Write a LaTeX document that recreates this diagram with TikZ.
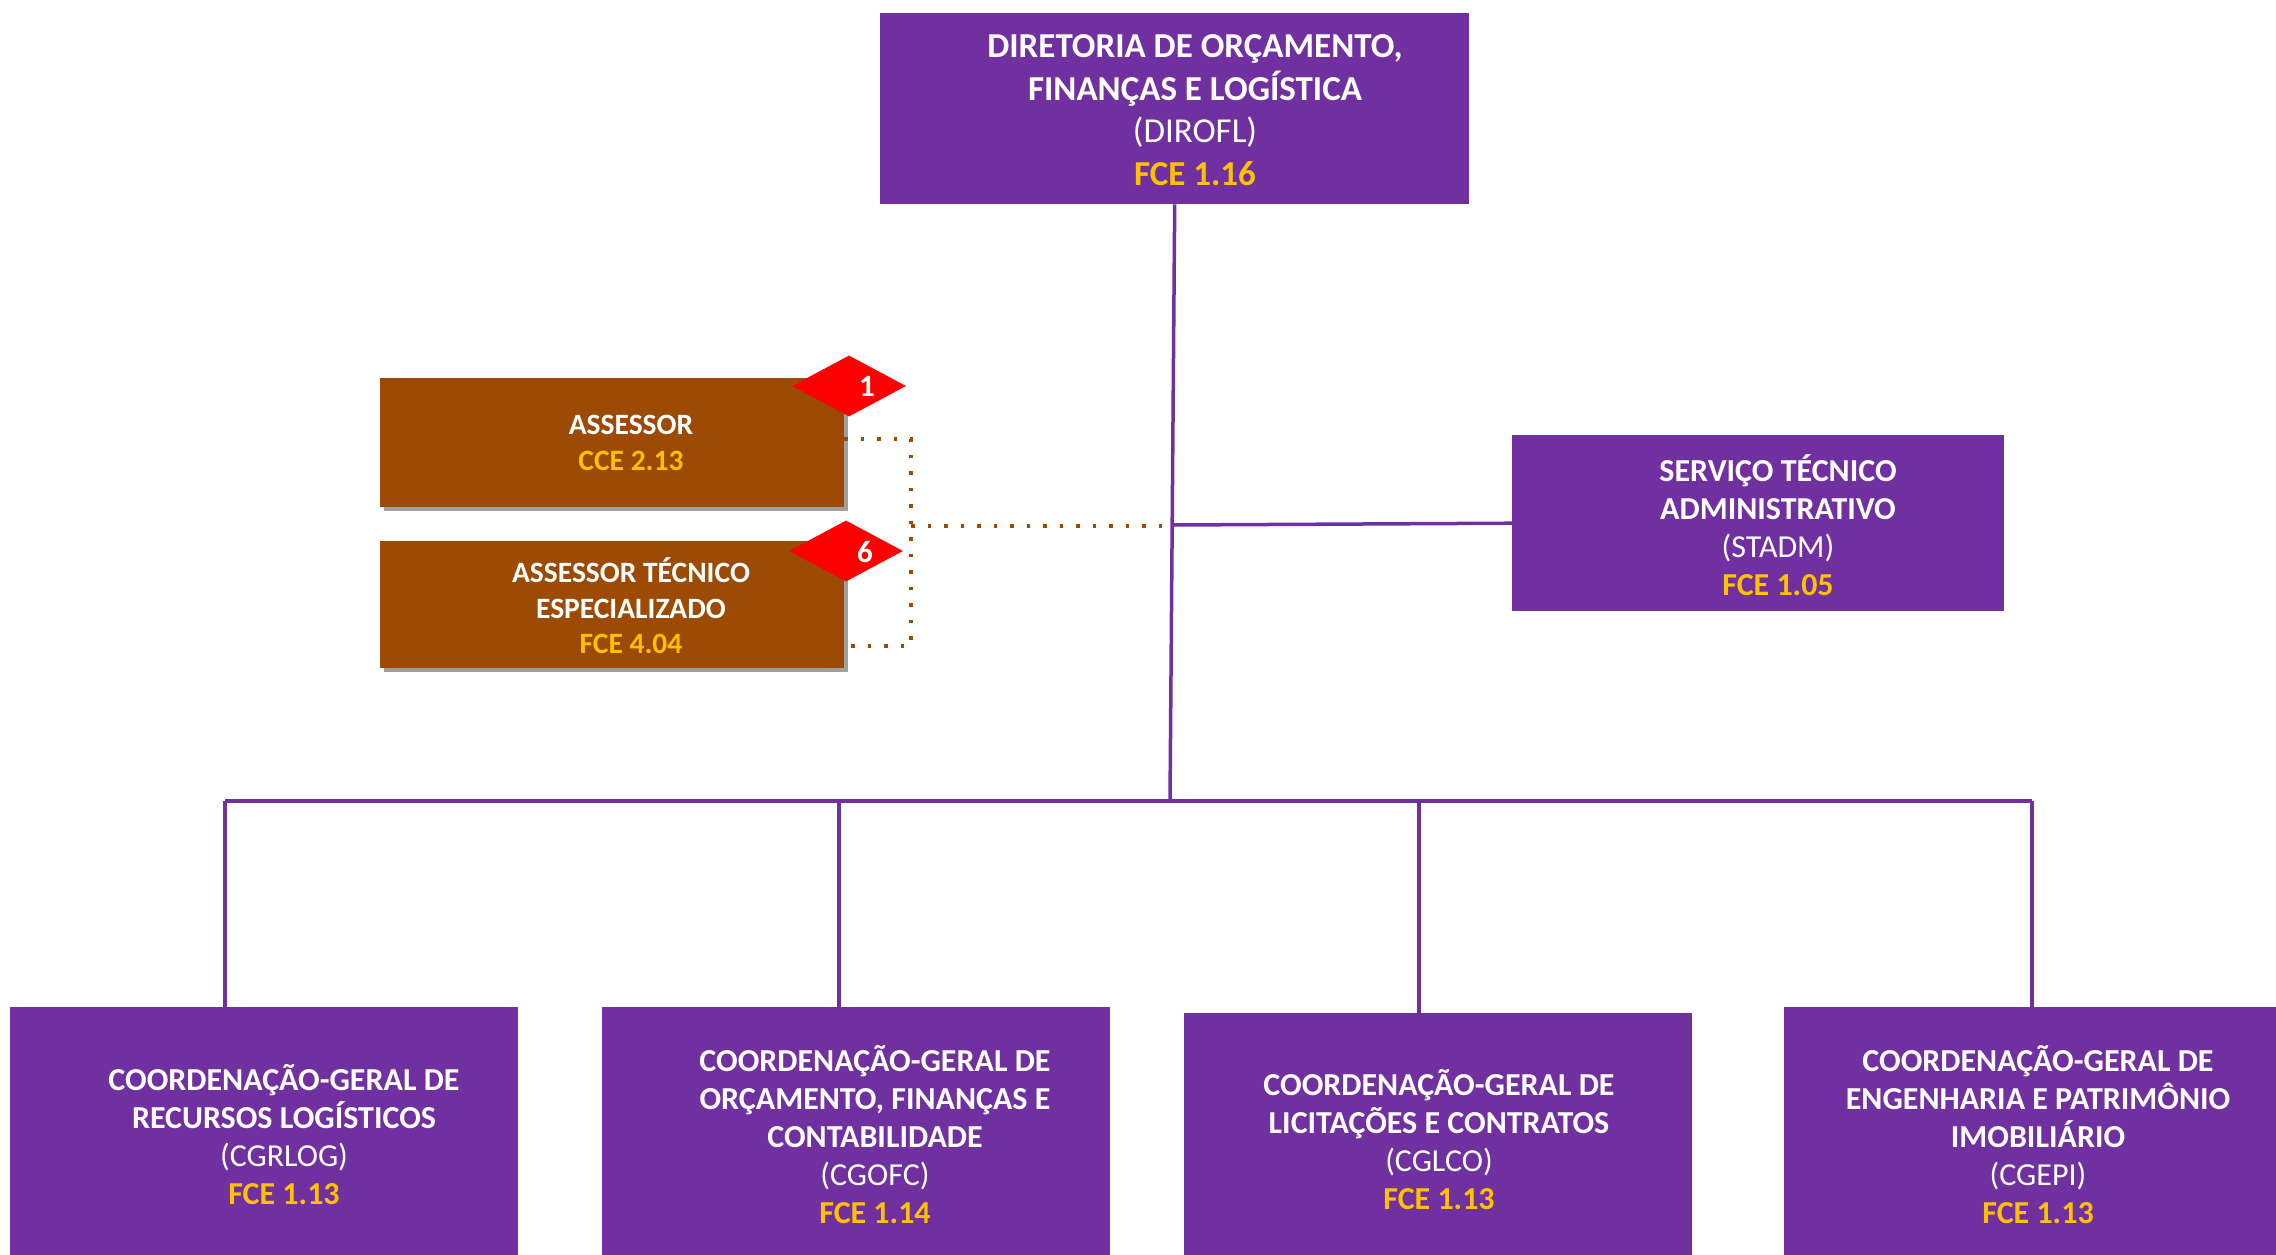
\documentclass[tikz,border=0pt]{standalone}
\usepackage{fontspec}
\setmainfont{Carlito}
\usetikzlibrary{shapes.geometric,shadows}
\definecolor{orgpurple}{HTML}{7030A0}
\definecolor{orgbrown}{HTML}{9C4A04}
\definecolor{orgyellow}{HTML}{FFC000}
\definecolor{orgred}{HTML}{FF0000}
\definecolor{orgshadow}{HTML}{A0A0A0}
\begin{document}
\begin{tikzpicture}[x=1pt,y=-1pt,
  pbox/.style={rectangle,fill=orgpurple,draw=none,inner sep=0pt,anchor=north west},
  bbox/.style={rectangle,fill=orgbrown,draw=none,inner sep=0pt,anchor=north west,
     drop shadow={shadow xshift=4pt,shadow yshift=-4pt,fill=orgshadow,opacity=1}},
  dmd/.style={diamond,fill=orgred,draw=none,inner sep=0pt,minimum width=114pt,minimum height=61pt},
  dnum/.style={text=white,font=\fontsize{31}{34}\selectfont\bfseries,inner sep=0pt},
  txtbig/.style={text=white,align=center,inner sep=0pt,font=\fontsize{35}{42.5}\selectfont\bfseries},
  txtmid/.style={text=white,align=center,inner sep=0pt,font=\fontsize{32}{38}\selectfont\bfseries},
  txtsml/.style={text=white,align=center,inner sep=0pt,font=\fontsize{29.5}{35.5}\selectfont\bfseries},
  conn/.style={draw=orgpurple,line width=3.5pt},
  dotconn/.style={draw=orgbrown,line width=3.5pt,dash pattern=on 3.5pt off 13pt}]
\useasboundingbox (0,0) rectangle (2276,1254);
\clip (0,0) rectangle (2276,1254);

% boxes
\node[pbox,minimum width=589pt,minimum height=191pt] (dirofl) at (880,13) {};
\node[pbox,minimum width=492pt,minimum height=176pt] (stadm) at (1512,435) {};
\node[bbox,minimum width=464pt,minimum height=129pt] (ass) at (380,378) {};
\node[bbox,minimum width=464pt,minimum height=127pt] (ate) at (380,541) {};
\node[pbox,minimum width=508pt,minimum height=300pt] (cgrlog) at (10,1007) {};
\node[pbox,minimum width=508pt,minimum height=300pt] (cgofc) at (602,1007) {};
\node[pbox,minimum width=508pt,minimum height=300pt] (cglco) at (1184,1013) {};
\node[pbox,minimum width=508pt,minimum height=300pt] (cgepi) at (1784,1007) {};

% diamonds
\node[dmd] (d1) at (849,386) {};
\node[dmd] (d6) at (846,551) {};
\node[dnum] (n1) at (867,386) {1};
\node[dnum] (n6) at (865,552) {6};

% texts
\node[txtbig] (tdirofl) at (1195,110) {DIRETORIA DE ORÇAMENTO,\\FINANÇAS E LOGÍSTICA\\{\mdseries (DIROFL)}\\{\color{orgyellow}FCE 1.16}};
\node[txtmid] (tstadm) at (1778,525) {SERVIÇO TÉCNICO\\ADMINISTRATIVO\\{\mdseries (STADM)}\\{\color{orgyellow}FCE 1.05}};
\node[txtsml] (tass) at (631,443) {ASSESSOR\\{\color{orgyellow}CCE 2.13}};
\node[txtsml] (tate) at (631,606) {ASSESSOR TÉCNICO\\ESPECIALIZADO\\{\color{orgyellow}FCE 4.04}};
\node[txtmid] (tcgrlog) at (284,1135) {COORDENAÇÃO-GERAL DE\\RECURSOS LOGÍSTICOS\\{\mdseries (CGRLOG)}\\{\color{orgyellow}FCE 1.13}};
\node[txtmid] (tcgofc) at (875,1134.5) {COORDENAÇÃO-GERAL DE\\ORÇAMENTO, FINANÇAS E\\CONTABILIDADE\\{\mdseries (CGOFC)}\\{\color{orgyellow}FCE 1.14}};
\node[txtmid] (tcglco) at (1439,1140) {COORDENAÇÃO-GERAL DE\\LICITAÇÕES E CONTRATOS\\{\mdseries (CGLCO)}\\{\color{orgyellow}FCE 1.13}};
\node[txtmid] (tcgepi) at (2038,1134.5) {COORDENAÇÃO-GERAL DE\\ENGENHARIA E PATRIMÔNIO\\IMOBILIÁRIO\\{\mdseries (CGEPI)}\\{\color{orgyellow}FCE 1.13}};

% connector coordinates
\coordinate (bus) at (1170,801);
\coordinate (jS) at (1172,525);
\coordinate (b1) at (225,801);
\coordinate (b2) at (839,801);
\coordinate (b3) at (1419,801);
\coordinate (b4) at (2032,801);
\coordinate (dA) at (911,439);
\coordinate (dB) at (911,646);
\coordinate (dM) at (911,526);
\coordinate (dE) at (1162,526);

% solid connectors
\draw[conn] (dirofl.south) -- (bus);
\draw[conn] (jS) -- (stadm.west);
\draw[conn] (b1) -- (b4);
\draw[conn] (b1) -- (b1 |- cgrlog.north);
\draw[conn] (b2) -- (b2 |- cgofc.north);
\draw[conn] (b3) -- (b3 |- cglco.north);
\draw[conn] (b4) -- (b4 |- cgepi.north);

% dotted connectors
\draw[dotconn] (ass.east |- dA) -- (dA) -- (dB) -- (ate.east |- dB);
\draw[dotconn] (dM) -- (dE);
\end{tikzpicture}
\end{document}
